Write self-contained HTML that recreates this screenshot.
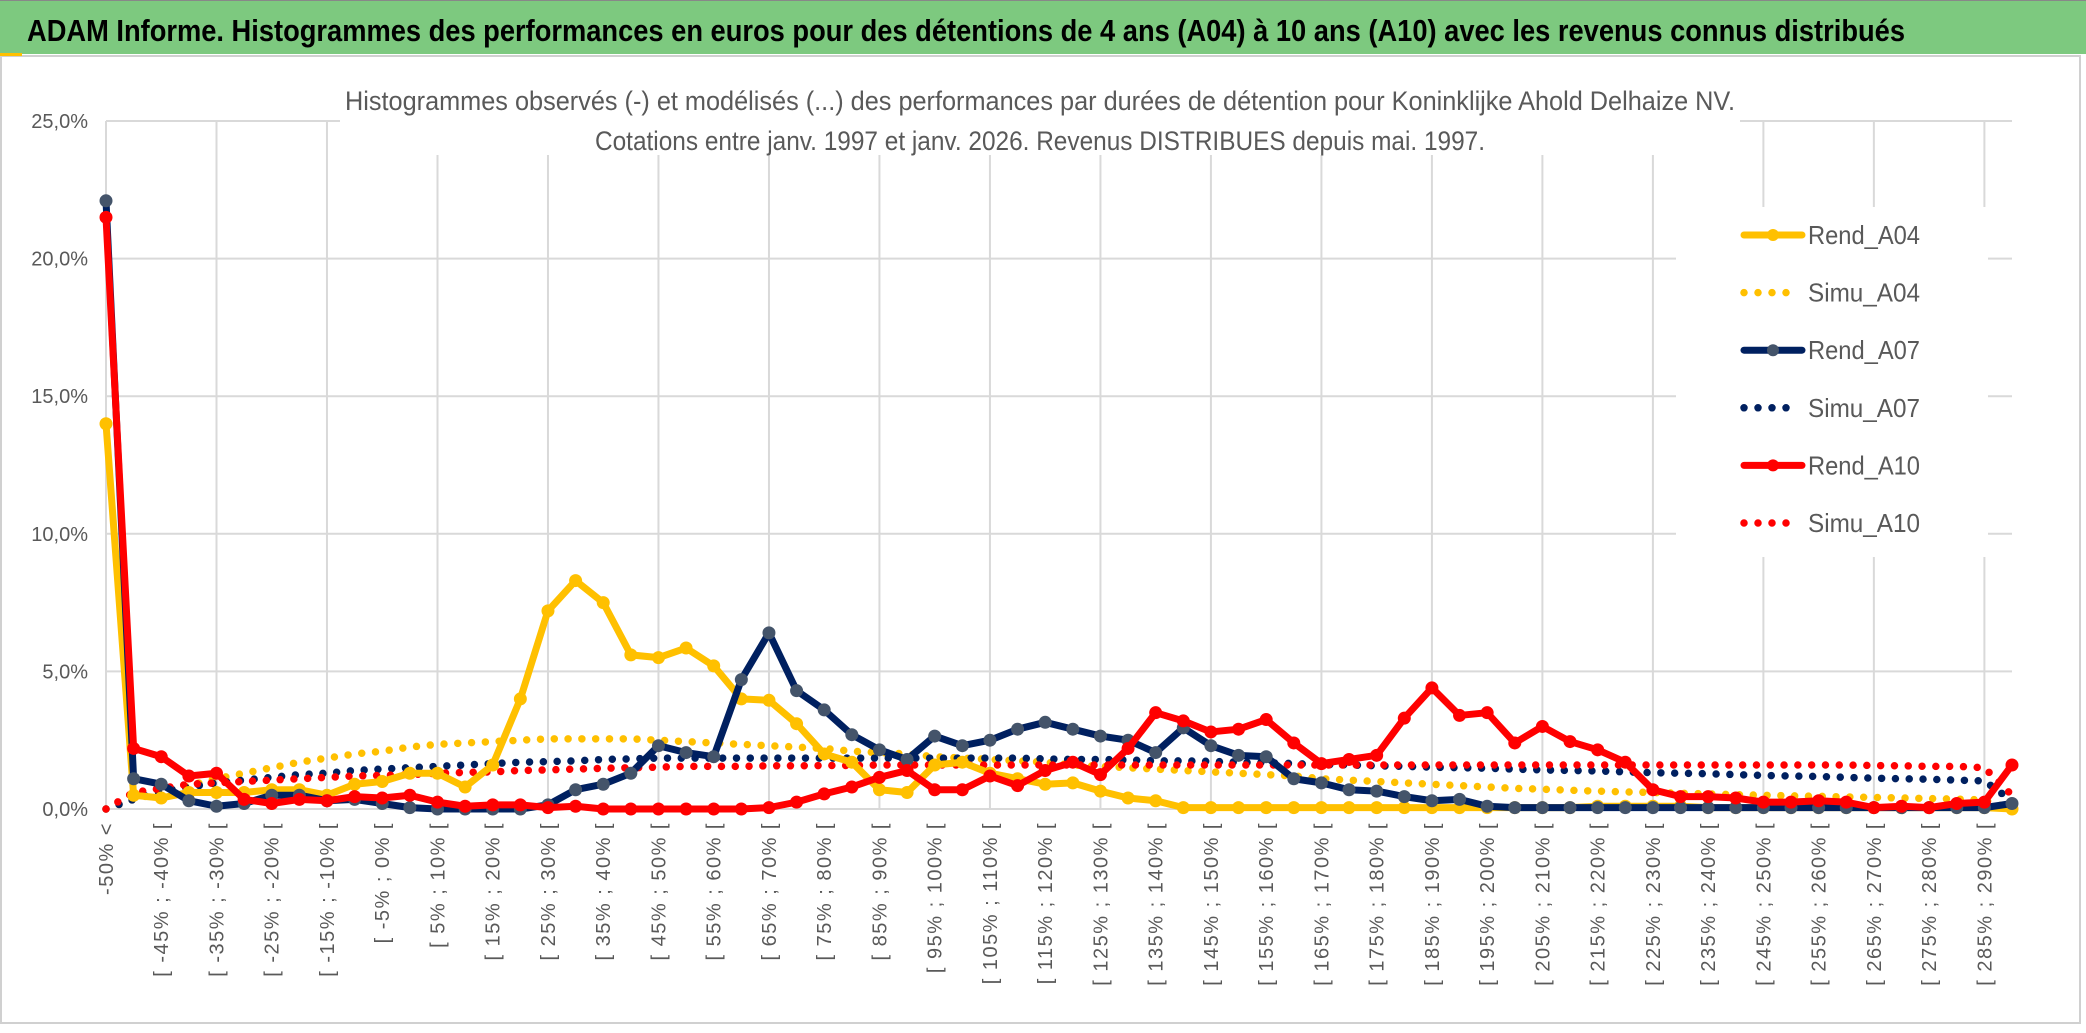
<!DOCTYPE html>
<html><head><meta charset="utf-8"><style>
html,body{margin:0;padding:0;background:#fff;}
svg{display:block;font-family:"Liberation Sans",sans-serif;}
</style></head><body>
<svg id="chart" width="2086" height="1033" viewBox="0 0 2086 1033" xmlns="http://www.w3.org/2000/svg">
<rect x="0" y="0" width="2086" height="54" fill="#7DC97F"/>
<rect x="0" y="0" width="2086" height="1" fill="#888"/>
<text x="27" y="41" font-size="31" font-weight="bold" fill="#000" textLength="1878" lengthAdjust="spacingAndGlyphs">ADAM Informe. Histogrammes des performances en euros pour des détentions de 4 ans (A04) à 10 ans (A10) avec les revenus connus distribués</text>
<rect x="1" y="56" width="2079" height="967" fill="#fff" stroke="#d0d0d0" stroke-width="2"/>
<rect x="0" y="53" width="22" height="3" fill="#FFC000"/>
<g id="grid"></g>
<rect x="1676" y="207" width="312" height="350" fill="#fff"/>
<rect x="340" y="75" width="1400" height="80" fill="#fff"/>
<text x="1040" y="110" font-size="27" fill="#595959" text-anchor="middle" textLength="1390" lengthAdjust="spacingAndGlyphs">Histogrammes observés (-) et modélisés (...) des performances par durées de détention pour Koninklijke Ahold Delhaize NV.</text>
<text x="1040" y="150" font-size="27" fill="#595959" text-anchor="middle" textLength="890" lengthAdjust="spacingAndGlyphs">Cotations entre janv. 1997 et janv. 2026. Revenus DISTRIBUES depuis mai. 1997.</text>
<g id="yaxis"></g>
<g id="xaxis"></g>
<g id="series"></g>
<g id="legend"></g>
</svg>
<script>
const yTicks = [0, 5, 10, 15, 20, 25];
const rendA04 = [14.0,0.5,0.4,0.6,0.6,0.6,0.7,0.7,0.5,0.9,1.0,1.3,1.3,0.8,1.6,4.0,7.2,8.3,7.5,5.6,5.5,5.85,5.2,4.0,3.95,3.1,2.0,1.7,0.7,0.6,1.6,1.7,1.3,1.1,0.9,0.95,0.65,0.4,0.3,0.05,0.05,0.05,0.05,0.05,0.05,0.05,0.05,0.05,0.05,0.05,0.05,0.05,0.05,0.05,0.1,0.1,0.1,0.1,0.05,0.05,0.05,0.05,0.05,0.05,0.05,0.05,0.05,0.05,0.05,0.0];
const simuA04 = [0,0.35,0.6,0.85,1.1,1.3,1.5,1.7,1.85,2.0,2.1,2.25,2.35,2.4,2.45,2.5,2.55,2.55,2.55,2.55,2.5,2.45,2.4,2.35,2.3,2.25,2.2,2.1,2.05,2.0,1.9,1.85,1.8,1.75,1.7,1.6,1.55,1.5,1.45,1.4,1.35,1.3,1.25,1.2,1.1,1.05,1.0,0.95,0.9,0.85,0.8,0.75,0.72,0.68,0.65,0.62,0.6,0.57,0.55,0.52,0.5,0.48,0.46,0.44,0.42,0.4,0.38,0.36,0.33,0.0];
const rendA07 = [22.1,1.1,0.9,0.3,0.1,0.2,0.5,0.5,0.3,0.35,0.2,0.05,0,0,0,0,0.15,0.7,0.9,1.3,2.3,2.05,1.9,4.7,6.4,4.3,3.6,2.7,2.15,1.8,2.65,2.3,2.5,2.9,3.15,2.9,2.65,2.5,2.05,2.95,2.3,1.95,1.9,1.1,0.95,0.7,0.65,0.45,0.3,0.35,0.1,0.05,0.05,0.05,0.05,0.05,0.05,0.05,0.05,0.05,0.05,0.05,0.05,0.05,0.05,0.05,0.05,0.05,0.05,0.2];
const simuA07 = [0,0.35,0.65,0.8,0.95,1.05,1.15,1.25,1.3,1.4,1.45,1.5,1.55,1.6,1.65,1.7,1.72,1.75,1.8,1.82,1.85,1.85,1.85,1.85,1.85,1.85,1.85,1.85,1.85,1.85,1.85,1.85,1.85,1.85,1.82,1.8,1.8,1.78,1.75,1.75,1.73,1.7,1.68,1.65,1.62,1.6,1.57,1.55,1.52,1.5,1.48,1.45,1.42,1.4,1.38,1.35,1.32,1.3,1.28,1.25,1.22,1.2,1.18,1.15,1.12,1.1,1.08,1.05,1.02,0.3];
const rendA10 = [21.5,2.2,1.9,1.2,1.3,0.35,0.2,0.35,0.3,0.45,0.4,0.5,0.25,0.1,0.15,0.15,0.05,0.1,0,0,0,0,0,0,0.05,0.25,0.55,0.8,1.15,1.4,0.7,0.7,1.2,0.85,1.4,1.7,1.25,2.2,3.5,3.2,2.8,2.9,3.25,2.4,1.65,1.8,1.95,3.3,4.4,3.4,3.5,2.4,3.0,2.45,2.15,1.7,0.7,0.45,0.45,0.4,0.25,0.25,0.3,0.25,0.05,0.1,0.05,0.2,0.25,1.6];
const simuA10 = [0,0.6,0.75,0.9,0.95,1.0,1.05,1.1,1.15,1.2,1.22,1.25,1.3,1.33,1.35,1.4,1.42,1.45,1.48,1.5,1.52,1.55,1.55,1.55,1.57,1.57,1.58,1.58,1.6,1.6,1.6,1.6,1.6,1.6,1.6,1.6,1.6,1.6,1.6,1.6,1.6,1.6,1.6,1.6,1.6,1.6,1.6,1.6,1.6,1.6,1.6,1.6,1.6,1.6,1.6,1.6,1.6,1.6,1.6,1.6,1.6,1.6,1.6,1.6,1.58,1.57,1.55,1.55,1.5,0.5];
const categories = [];
categories.push('-50% <');
for (let k = 1; k < 70; k++) { categories.push('[ ' + (-55 + 5*k) + '% ; ' + (-50 + 5*k) + '% ['); }
const legendNames = ['Rend_A04','Simu_A04','Rend_A07','Simu_A07','Rend_A10','Simu_A10'];

const NS = 'http://www.w3.org/2000/svg';
const X0 = 106, XSTEP = (2012 - 106) / 69, Y0 = 809, YTOP = 121, YMAX = 25;
function xs(i){ return X0 + i * XSTEP; }
function ys(v){ return Y0 - v / YMAX * (Y0 - YTOP); }
function mk(tag, attrs, parent){ const e = document.createElementNS(NS, tag); for (const k in attrs) e.setAttribute(k, attrs[k]); parent.appendChild(e); return e; }

const grid = document.getElementById('grid');
yTicks.forEach(t => {
  const l = mk('line', {x1: X0, x2: 2012, y1: ys(t), y2: ys(t), stroke: '#d9d9d9', 'stroke-width': 2}, grid);
  
  
});
for (let i = 0; i < categories.length; i += 4) {
  const l = mk('line', {x1: xs(i), x2: xs(i), y1: YTOP, y2: Y0, stroke: '#d9d9d9', 'stroke-width': 2}, grid);
  
  
}
const yaxis = document.getElementById('yaxis');
yTicks.forEach(t => {
  const tx = mk('text', {x: 88, y: ys(t) + 7, 'font-size': 20, fill: '#595959', 'text-anchor': 'end'}, yaxis);
  tx.textContent = t.toFixed(1).replace('.', ',') + '%';
  
  
});
const xaxis = document.getElementById('xaxis');
for (let i = 0; i < categories.length; i += 2) {
  const xx = xs(i) + 7;
  const tx = mk('text', {x: xx, y: 822, 'font-size': 20, fill: '#595959', 'text-anchor': 'end', 'letter-spacing': '1.5', transform: 'rotate(-90 ' + xx + ' 822)'}, xaxis);
  tx.textContent = categories[i];
  
  
}
const series = document.getElementById('series');
function drawSimu(vals, color, name){
  const pts = vals.map((v,i) => xs(i) + ',' + ys(v)).join(' ');
  const p = mk('polyline', {points: pts, fill: 'none', stroke: color, 'stroke-width': 7.5, 'stroke-linecap': 'round', 'stroke-dasharray': '0 13.8'}, series);
  
  
}
function drawRend(vals, color, mcolor, name){
  const pts = vals.map((v,i) => xs(i) + ',' + ys(v)).join(' ');
  const p = mk('polyline', {points: pts, fill: 'none', stroke: color, 'stroke-width': 7, 'stroke-linejoin': 'round'}, series);
  
  
  vals.forEach((v,i) => {
    const c = mk('circle', {cx: xs(i), cy: ys(v), r: 6.5, fill: mcolor}, series);
    
    
  });
}
drawSimu(simuA04, '#FFC000', 'simu-a04-line');
drawSimu(simuA07, '#002060', 'simu-a07-line');
drawSimu(simuA10, '#FF0000', 'simu-a10-line');
drawRend(rendA04, '#FFC000', '#FFC000', 'rend-a04-line');
drawRend(rendA07, '#002060', '#44546A', 'rend-a07-line');
drawRend(rendA10, '#FF0000', '#FF0000', 'rend-a10-line');

const legend = document.getElementById('legend');
const lcolors = ['#FFC000','#FFC000','#002060','#002060','#FF0000','#FF0000'];
legendNames.forEach((n, i) => {
  const y = 235 + i * 57.6;
  const g = mk('g', {}, legend);
  
  
  if (i % 2 === 0) {
    mk('line', {x1: 1744, x2: 1802, y1: y, y2: y, stroke: lcolors[i], 'stroke-width': 7, 'stroke-linecap': 'round'}, g);
    mk('circle', {cx: 1773, cy: y, r: 6, fill: i === 2 ? '#44546A' : lcolors[i]}, g);
  } else {
    mk('line', {x1: 1744, x2: 1795, y1: y, y2: y, stroke: lcolors[i], 'stroke-width': 7.5, 'stroke-linecap': 'round', 'stroke-dasharray': '0 14'}, g);
  }
  const t = mk('text', {x: 1808, y: y + 9, 'font-size': 26, fill: '#595959', textLength: 112, lengthAdjust: 'spacingAndGlyphs'}, g);
  t.textContent = n;
});
</script>
</body></html>
